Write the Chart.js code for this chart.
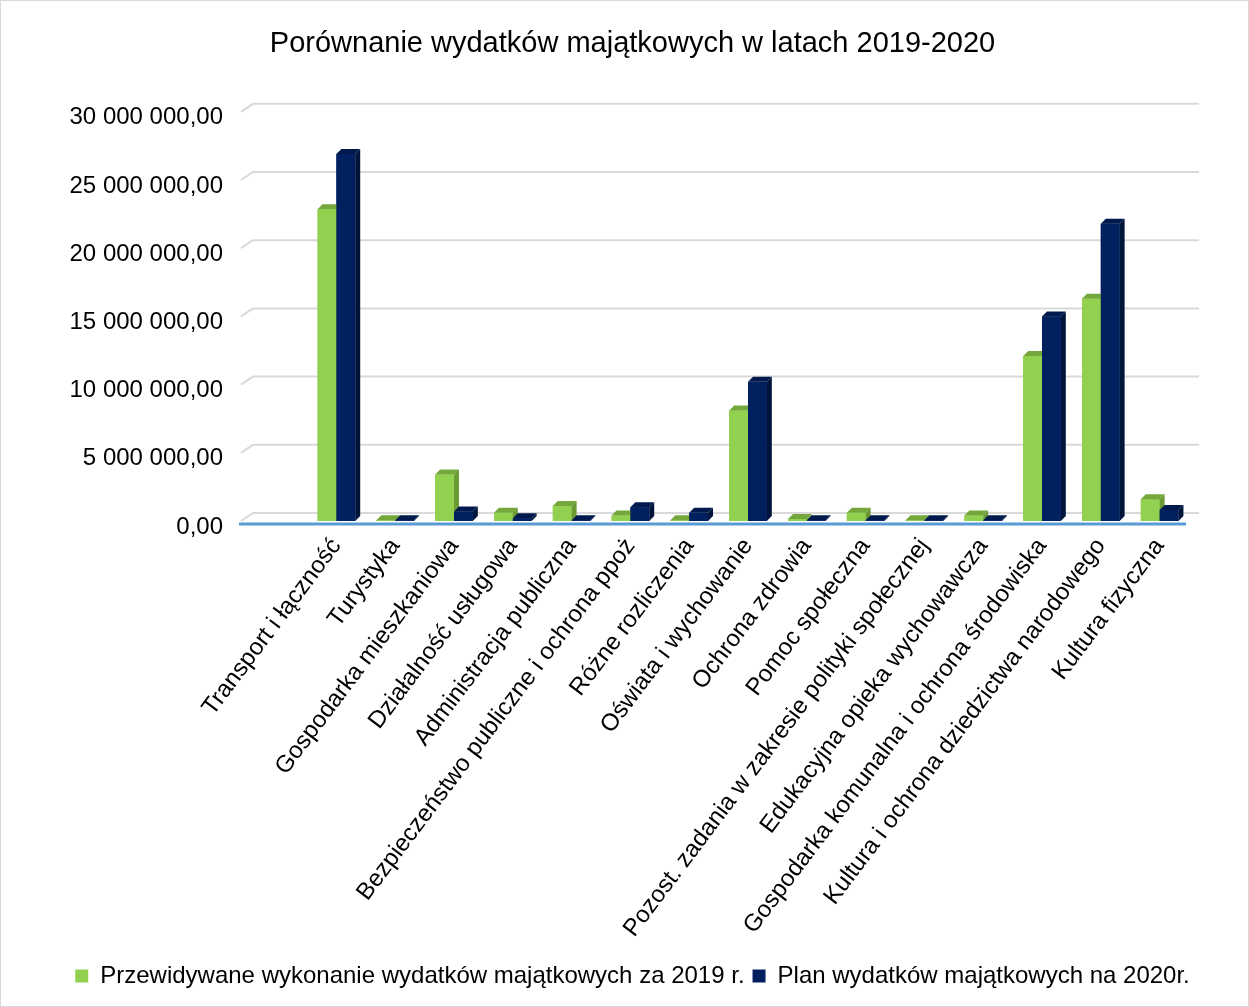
<!DOCTYPE html>
<html>
<head>
<meta charset="utf-8">
<script src="https://cdn.jsdelivr.net/npm/chart.js@4"></script>
<style>
    body { margin: 0; background: #fff; }
    #wrap { width: 1249px; height: 1007px; box-sizing: border-box; border: 1px solid #d9d9d9; }
</style>
</head>
<body>
<div id="wrap"><canvas id="mine" width="1247" height="1005"></canvas></div>
<script>
    // dane z wykresu
    const kategorie = [
        "Transport i łączność",
        "Turystyka",
        "Gospodarka mieszkaniowa",
        "Działalność usługowa",
        "Administracja publiczna",
        "Bezpieczeństwo publiczne i ochrona ppoż",
        "Różne rozliczenia",
        "Oświata i wychowanie",
        "Ochrona zdrowia",
        "Pomoc społeczna",
        "Pozost. zadania w zakresie polityki społecznej",
        "Edukacyjna opieka wychowawcza",
        "Gospodarka komunalna i ochrona środowiska",
        "Kultura i ochrona dziedzictwa narodowego",
        "Kultura fizyczna"
    ];
    const wykonanie2019 = [22850000, 50000, 3400000, 600000, 1100000, 400000, 50000, 8100000, 150000, 600000, 50000, 400000, 12100000, 16300000, 1600000];
    const plan2020 = [26900000, 50000, 700000, 200000, 50000, 1000000, 600000, 10200000, 50000, 50000, 50000, 50000, 15000000, 21800000, 800000];
    const etykietySerii = ["Przewidywane wykonanie wydatków majątkowych za 2019 r.", "Plan wydatków majątkowych na 2020r."];

    const FONT = "'Liberation Sans', Arial, sans-serif";

    function fmt(v) {
        let s = Math.round(v).toString().replace(/\B(?=(\d{3})+(?!\d))/g, " ");
        return s + ",00";
    }

    // tylna ściana - linie siatki przesunięte w głąb
    const sciana = {
        id: "sciana",
        beforeDatasetsDraw(chart) {
            const ctx = chart.ctx, a = chart.chartArea, y = chart.scales.y;
            ctx.save();
            ctx.strokeStyle = "#d9d9d9";
            ctx.lineWidth = 2;
            y.ticks.forEach(t => {
                let py = y.getPixelForValue(t.value);
                ctx.beginPath();
                ctx.moveTo(a.left - 66, py);
                ctx.lineTo(a.left - 54, py - 8);
                ctx.lineTo(a.right + 10, py - 8);
                ctx.stroke();
            });
            ctx.strokeStyle = "#5b9bd5";
            ctx.lineWidth = 3;
            ctx.beginPath();
            let py0 = y.getPixelForValue(0) + 3;
            ctx.moveTo(a.left - 68, py0);
            ctx.lineTo(a.right - 3, py0);
            ctx.stroke();
            ctx.restore();
        }
    };

    // efekt 3D słupków (rysowane po kolei: najpierw 2019, potem 2020)
    const glebia = {
        id: "glebia",
        afterDatasetsDraw(chart) {
            const ctx = chart.ctx;
            const dx = 5, dy = 5;
            ctx.save();
            chart.data.datasets.forEach((ds, i) => {
                chart.getDatasetMeta(i).data.forEach(b => {
                    let l = b.x - b.width / 2, r = b.x + b.width / 2;
                    ctx.fillStyle = ds.backgroundColor;
                    ctx.fillRect(l, b.y, r - l, b.base - b.y);
                    ctx.fillStyle = ds.topColor;
                    ctx.beginPath();
                    ctx.moveTo(l, b.y);
                    ctx.lineTo(l + dx, b.y - dy);
                    ctx.lineTo(r + dx, b.y - dy);
                    ctx.lineTo(r, b.y);
                    ctx.closePath();
                    ctx.fill();
                    ctx.fillStyle = ds.sideColor;
                    ctx.beginPath();
                    ctx.moveTo(r, b.y);
                    ctx.lineTo(r + dx, b.y - dy);
                    ctx.lineTo(r + dx, b.base - dy);
                    ctx.lineTo(r, b.base);
                    ctx.closePath();
                    ctx.fill();
                });
            });
            ctx.restore();
        }
    };

    new Chart(document.getElementById("mine").getContext("2d"), {
        type: "bar",
        data: {
            labels: kategorie,
            datasets: [{
                label: etykietySerii[0],
                data: wykonanie2019,
                backgroundColor: "#92d050",
                topColor: "#74a83c",
                sideColor: "#6b9a35"
            }, {
                label: etykietySerii[1],
                data: plan2020,
                backgroundColor: "#002060",
                topColor: "#001a4d",
                sideColor: "#00143c"
            }]
        },
        plugins: [sciana, glebia],
        options: {
            responsive: false,
            animation: { duration: 0 },
            categoryPercentage: 0.64,
            barPercentage: 1,
            layout: { padding: { left: 16, right: 0, bottom: 8 } },
            plugins: {
                title: {
                    display: true,
                    text: "Porównanie wydatków majątkowych w latach 2019-2020",
                    color: "#000",
                    font: { family: FONT, size: 29, weight: "normal" },
                    padding: { top: 26, bottom: 50 }
                },
                legend: {
                    position: "bottom",
                    labels: {
                        color: "#000",
                        font: { family: FONT, size: 24 },
                        boxWidth: 13,
                        boxHeight: 13,
                        padding: 8
                    }
                },
                tooltip: { enabled: false }
            },
            scales: {
                x: {
                    grid: { display: false },
                    border: { display: false },
                    ticks: {
                        color: "#000",
                        font: { family: FONT, size: 24 },
                        autoSkip: false,
                        minRotation: 53,
                        maxRotation: 53,
                        padding: 4
                    },
                    afterFit(s) { s.height = 435; }
                },
                y: {
                    min: 0,
                    max: 30000000,
                    grid: { display: false },
                    border: { display: false },
                    ticks: {
                        stepSize: 5000000,
                        color: "#000",
                        font: { family: FONT, size: 24 },
                        padding: 76,
                        labelOffset: 6,
                        callback: v => fmt(v)
                    },
                    afterFit(s) { s.width = 290; }
                },
                // pusta oś po prawej, tylko jako margines
                y2: {
                    position: "right",
                    grid: { display: false },
                    border: { display: false },
                    ticks: { display: false },
                    afterFit(s) { s.width = 59; }
                }
            }
        }
    });
</script>
</body>
</html>
